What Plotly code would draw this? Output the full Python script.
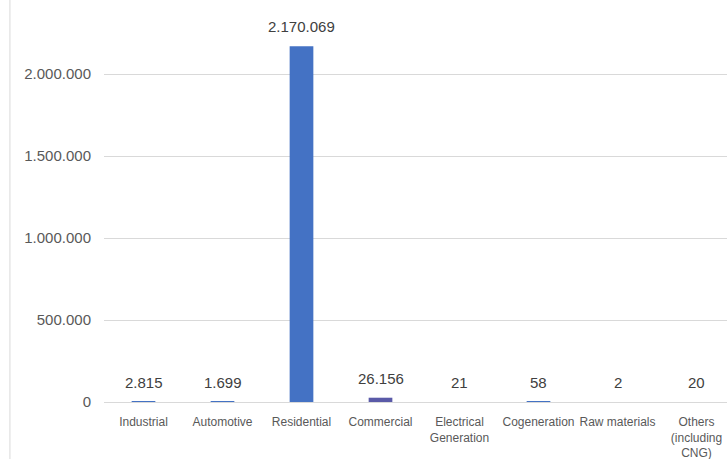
import plotly.graph_objects as go

categories = ["Industrial", "Automotive", "Residential", "Commercial",
              "Electrical<br>Generation", "Cogeneration", "Raw materials",
              "Others<br>(including<br>CNG)"]
values = [2815, 1699, 2170069, 26156, 21, 58, 2, 20]
bar_colors = ["#4472C4", "#4472C4", "#4472C4", "#5A5AA8",
              "#4472C4", "#4472C4", "#4472C4", "#4472C4"]
y_ticks = [0, 500000, 1000000, 1500000, 2000000]

xs = list(range(len(categories)))

fig = go.Figure(go.Bar(
    x=xs,
    y=values,
    marker=dict(color=bar_colors, line=dict(width=0)),
))

def fmt(v):
    return f"{v:,}".replace(",", ".")

annotations = [dict(x=x, y=v, xref="x", yref="y", text=fmt(v),
                    showarrow=False, yanchor="bottom", yshift=9,
                    font=dict(family="Liberation Sans", size=15, color="#404040"))
               for x, v in zip(xs, values)]

fig.update_layout(
    width=727, height=459,
    margin=dict(l=104, r=0, t=0, b=57),
    paper_bgcolor="white", plot_bgcolor="white",
    separators=",.",
    bargap=0.70,
    showlegend=False,
    font=dict(family="Liberation Sans", color="#595959"),
    xaxis=dict(
        tickmode="array",
        tickvals=xs,
        ticktext=categories,
        range=[-0.5, 7.386],
        showgrid=False, showline=False, zeroline=False,
        tickfont=dict(size=12, color="#595959"),
        ticklabelstandoff=11,
    ),
    yaxis=dict(
        range=[0, 2452000],
        tickvals=y_ticks,
        tickformat=",",
        showgrid=True, gridcolor="#D9D9D9", gridwidth=1,
        zeroline=True, zerolinecolor="#D9D9D9", zerolinewidth=1,
        showline=False,
        tickfont=dict(size=15, color="#595959"),
        ticklabelstandoff=12,
    ),
    annotations=annotations,
    shapes=[dict(type="line", xref="paper", yref="paper",
                 x0=-0.151, x1=-0.151, y0=-0.2, y1=1.0,
                 line=dict(color="#D9D9D9", width=1))],
)

fig.write_html("out.html")
